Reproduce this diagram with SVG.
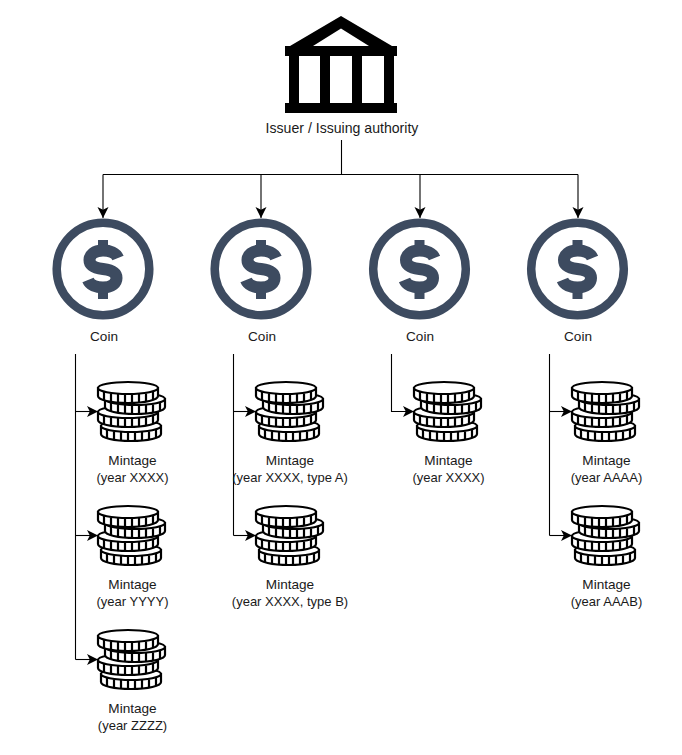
<svg xmlns="http://www.w3.org/2000/svg" xmlns:xlink="http://www.w3.org/1999/xlink" width="682" height="755" viewBox="0 0 682 755">
<style>
text{font-family:"Liberation Sans",Arial,sans-serif;font-size:13.6px;fill:#1a1a1a;text-anchor:middle}
.yr{font-size:13px}
.big{font-size:14.1px}
.wire{fill:none;stroke:#000;stroke-width:1.1}
.ring{fill:none;stroke:#3d4b60;stroke-width:8.500}
.dol{fill:none;stroke:#3d4b60;stroke-width:12}
.bar{fill:#3d4b60}
.cb{fill:#fff;stroke:#000;stroke-width:2.200}
.tick{stroke:#000;stroke-width:2.200;fill:none}
</style>
<defs>
<marker id="arrow" markerUnits="userSpaceOnUse" markerWidth="12" markerHeight="12" refX="11" refY="5.5" orient="auto">
<path d="M0 0L11 5.500L0 11L2.800 5.500Z" fill="#000"/>
</marker>
<g id="oneCoin">
<path class="cb" d="M-30 0V8C-30 12 -17 15 0 15C17 15 30 12 30 8V0Z"/>
<ellipse class="cb" cx="0" cy="0" rx="30" ry="6"/>
<path class="tick" d="M-24 4V12M-17 5.500V13.500M-10 6V14.500M-3 6V15M4 6V15M11 6V14.500M18 5.500V13.500M25 4V12"/>
</g>
<g id="stack">
<use href="#oneCoin" x="3" y="38"/>
<use href="#oneCoin" x="0" y="24"/>
<use href="#oneCoin" x="7" y="11"/>
<use href="#oneCoin" x="0" y="0"/>
</g>
<g id="coinIcon">
<circle class="ring" cx="0" cy="0" r="46.300"/>
<rect class="bar" x="-5" y="-29" width="10" height="12"/>
<rect class="bar" x="-5" y="18" width="10" height="12"/>
<path class="dol" d="M15 -11C13 -16 7 -18.500 0 -18.500C-9 -18.500 -13.500 -14 -13.500 -9C-13.500 -3 -8 -1 0 0C8 1 13.500 3 13.500 9C13.500 14 9 18.500 0 18.500C-7 18.500 -13 16 -15 11"/>
</g>
</defs>
<g id="connectors">
<path class="wire" d="M341.500 140V174.500"/>
<path class="wire" d="M103 174.500H578"/>
<path class="wire" marker-end="url(#arrow)" d="M103 174.500V218"/>
<path class="wire" marker-end="url(#arrow)" d="M261 174.500V218"/>
<path class="wire" marker-end="url(#arrow)" d="M420 174.500V218"/>
<path class="wire" marker-end="url(#arrow)" d="M578 174.500V218"/>
<path class="wire" d="M75.500 354V659.500"/>
<path class="wire" marker-end="url(#arrow)" d="M75.500 411.500H98"/>
<path class="wire" marker-end="url(#arrow)" d="M75.500 535.500H98"/>
<path class="wire" marker-end="url(#arrow)" d="M75.500 659.500H98"/>
<path class="wire" d="M233.500 354V535.500"/>
<path class="wire" marker-end="url(#arrow)" d="M233.500 411.500H256"/>
<path class="wire" marker-end="url(#arrow)" d="M233.500 535.500H256"/>
<path class="wire" marker-end="url(#arrow)" d="M391.500 354V411.500H414"/>
<path class="wire" d="M549.500 354V535.500"/>
<path class="wire" marker-end="url(#arrow)" d="M549.500 411.500H572"/>
<path class="wire" marker-end="url(#arrow)" d="M549.500 535.500H572"/>
</g>
<g id="issuer">
<path fill="#000" fill-rule="evenodd" d="M341 16L392 46H397V56H394V103H397V113H285V103H289V56H285V46H290ZM341 28.500L313 46H369ZM299 56V103H320V56ZM330 56V103H352V56ZM362 56V103H384V56Z"/>
<text class="big" x="342" y="133">Issuer / Issuing authority</text>
</g>
<g id="coin1"><use href="#coinIcon" x="103" y="269"/><text x="104" y="341">Coin</text></g>
<g id="coin2"><use href="#coinIcon" x="261" y="269"/><text x="262" y="341">Coin</text></g>
<g id="coin3"><use href="#coinIcon" x="419.500" y="269"/><text x="420" y="341">Coin</text></g>
<g id="coin4"><use href="#coinIcon" x="577.500" y="269"/><text x="578" y="341">Coin</text></g>
<g id="m1a"><use href="#stack" x="128" y="388"/><text x="132.500" y="465">Mintage</text><text class="yr" x="132.500" y="482">(year XXXX)</text></g>
<g id="m1b"><use href="#stack" x="128" y="512"/><text x="132.500" y="589">Mintage</text><text class="yr" x="132.500" y="606">(year YYYY)</text></g>
<g id="m1c"><use href="#stack" x="128" y="636"/><text x="132.500" y="713">Mintage</text><text class="yr" x="132.500" y="730">(year ZZZZ)</text></g>
<g id="m2a"><use href="#stack" x="286" y="388"/><text x="290" y="465">Mintage</text><text class="yr" x="290" y="482">(year XXXX, type A)</text></g>
<g id="m2b"><use href="#stack" x="286" y="512"/><text x="290" y="589">Mintage</text><text class="yr" x="290" y="606">(year XXXX, type B)</text></g>
<g id="m3a"><use href="#stack" x="444" y="388"/><text x="448.500" y="465">Mintage</text><text class="yr" x="448.500" y="482">(year XXXX)</text></g>
<g id="m4a"><use href="#stack" x="602" y="388"/><text x="606.500" y="465">Mintage</text><text class="yr" x="606.500" y="482">(year AAAA)</text></g>
<g id="m4b"><use href="#stack" x="602" y="512"/><text x="606.500" y="589">Mintage</text><text class="yr" x="606.500" y="606">(year AAAB)</text></g>
</svg>
